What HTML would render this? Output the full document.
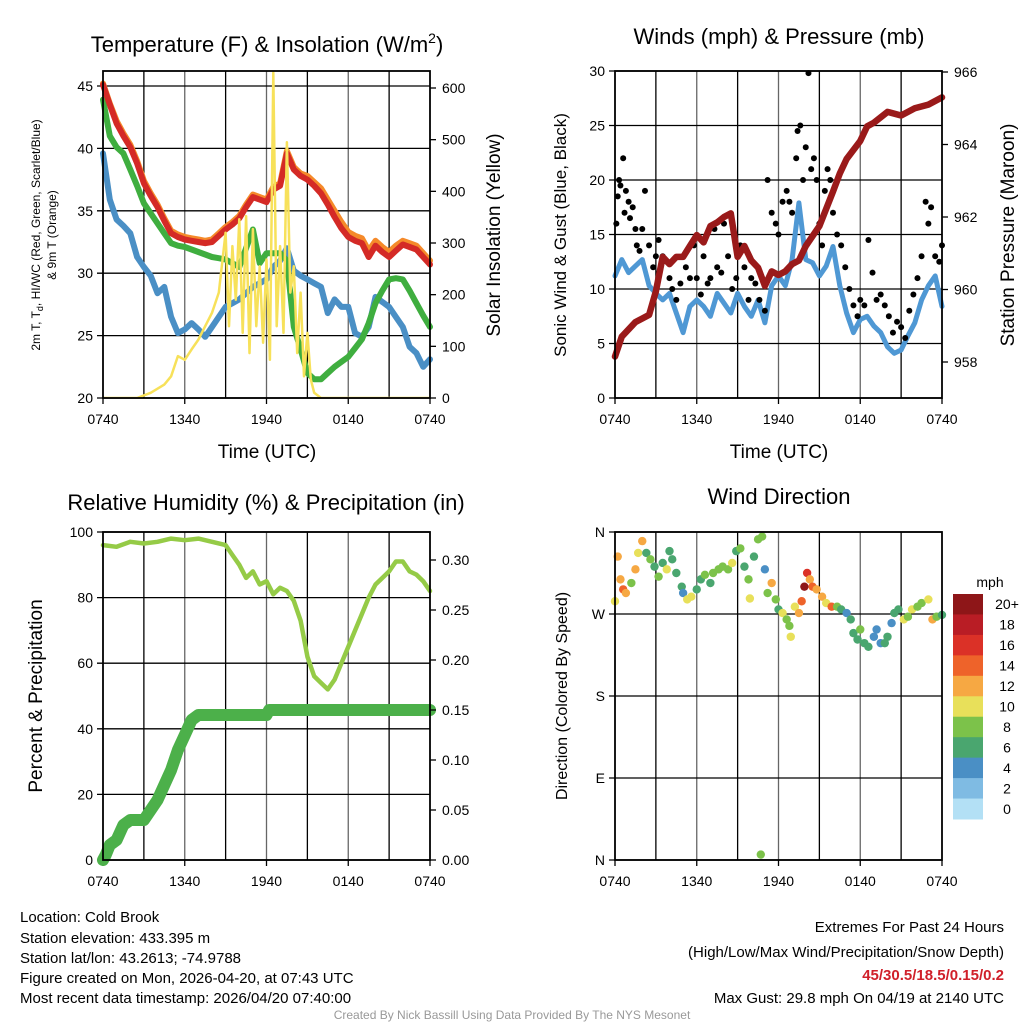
<!DOCTYPE html>
<html><head><meta charset="utf-8"><style>
body{margin:0;background:#fff}
svg{display:block;font-family:"Liberation Sans",sans-serif}
</style></head><body>
<svg id="c" width="1024" height="1024" viewBox="0 0 1024 1024">
<g id="L"></g>
<text x="267" y="52" font-size="22" text-anchor="middle">Temperature (F) &amp; Insolation (W/m<tspan dy="-9" font-size="14">2</tspan><tspan dy="9">)</tspan></text>
<text x="779" y="44" font-size="22" text-anchor="middle">Winds (mph) &amp; Pressure (mb)</text>
<text x="266" y="510" font-size="22" text-anchor="middle">Relative Humidity (%) &amp; Precipitation (in)</text>
<text x="779" y="504" font-size="22" text-anchor="middle">Wind Direction</text>
<text x="267" y="458" font-size="19" text-anchor="middle">Time (UTC)</text>
<text x="779" y="458" font-size="19" text-anchor="middle">Time (UTC)</text>
<text transform="translate(40,235) rotate(-90)" font-size="12" text-anchor="middle">2m T, T<tspan dy="3" font-size="9">d</tspan><tspan dy="-3">, HI/WC (Red, Green, Scarlet/Blue)</tspan></text>
<text transform="translate(56,235) rotate(-90)" font-size="12" text-anchor="middle">&amp; 9m T (Orange)</text>
<text transform="translate(500,235) rotate(-90)" font-size="19" text-anchor="middle">Solar Insolation (Yellow)</text>
<text transform="translate(566,235) rotate(-90)" font-size="17" text-anchor="middle">Sonic Wind &amp; Gust (Blue, Black)</text>
<text transform="translate(1014,235) rotate(-90)" font-size="19" text-anchor="middle">Station Pressure (Maroon)</text>
<text transform="translate(42,696) rotate(-90)" font-size="19" text-anchor="middle">Percent &amp; Precipitation</text>
<text transform="translate(567,696) rotate(-90)" font-size="16" text-anchor="middle">Direction (Colored By Speed)</text>
<text x="990" y="587" font-size="14" text-anchor="middle">mph</text>
<g font-size="15">
<text x="20" y="922">Location: Cold Brook</text>
<text x="20" y="943">Station elevation: 433.395 m</text>
<text x="20" y="963">Station lat/lon: 43.2613; -74.9788</text>
<text x="20" y="983">Figure created on Mon, 2026-04-20, at 07:43 UTC</text>
<text x="20" y="1003">Most recent data timestamp: 2026/04/20 07:40:00</text>
</g>
<g font-size="15" text-anchor="end">
<text x="1004" y="932">Extremes For Past 24 Hours</text>
<text x="1004" y="957">(High/Low/Max Wind/Precipitation/Snow Depth)</text>
<text x="1004" y="980" fill="#d0202a" font-weight="bold">45/30.5/18.5/0.15/0.2</text>
<text x="1004" y="1003">Max Gust: 29.8 mph On 04/19 at 2140 UTC</text>
</g>
<text x="512" y="1019" font-size="12" fill="#999" text-anchor="middle">Created By Nick Bassill Using Data Provided By The NYS Mesonet</text>
</svg>
<script>
// ---- data ----
const hrs49 = [0,0.5,1,1.5,2,2.5,3,3.5,4,4.5,5,5.5,6,6.5,7,7.5,8,8.5,9,9.5,10,10.5,11,11.5,12,12.5,13,13.5,14,14.5,15,15.5,16,16.5,17,17.5,18,18.5,19,19.5,20,20.5,21,21.5,22,22.5,23,23.5,24];
const tempRed = [45.1,43.5,42,41,40.1,38.8,37.2,36.2,35.3,34.2,33.2,32.9,32.7,32.6,32.5,32.4,32.5,33,33.5,33.9,34.4,35.3,36.1,35.9,35.7,36.7,37,39.6,38.3,37.8,37.5,37,36.4,35.5,34.5,33.6,32.9,32.6,32.4,31.3,32.2,31.7,31.3,31.8,32.3,32.1,31.9,31.3,30.7];
const temp9m = [45.2,43.6,42.2,41.2,40.3,39,37.4,36.4,35.5,34.4,33.4,33.1,32.9,32.8,32.7,32.6,32.7,33.2,33.7,34.1,34.6,35.5,36.3,36.1,35.9,36.9,37.2,39.8,38.5,38,37.8,37.3,36.8,35.9,35,34.1,33.3,33,32.8,31.8,32.6,32.1,31.7,32.2,32.6,32.4,32.2,31.6,31];
const tempDew = [43.9,41,40.1,39.6,38.3,37,35.6,34.8,34,33.2,32.4,32.2,32.1,31.9,31.7,31.5,31.3,31.2,31.1,30.8,30.5,32,33.5,30.8,31.6,31.6,31.6,31,25.7,23.9,22,21.5,21.5,22,22.5,22.9,23.3,24,24.7,26,27.6,28.6,29.5,29.6,29.5,28.6,27.6,26.6,25.7];
const tempWC = [39.6,35.9,34.3,33.8,33.2,31.3,30.5,29.8,28.4,28.9,26.5,25.2,25.5,26,25.5,24.9,25.7,26.5,27.3,27.6,27.9,28.4,28.9,29.2,29.5,30.5,31,32,30.2,29.8,29.5,29.2,28.9,26.8,27.9,27.3,27.3,25.2,24.9,25.7,28.1,27.7,27.3,26.5,25.7,24.1,23.6,22.5,23.1];
const solarHrs = [0,2.5,3.5,4.5,5,5.5,6,6.5,7,7.5,8,8.5,9,9.25,9.5,9.75,10,10.25,10.5,10.75,11,11.25,11.5,11.75,12,12.25,12.5,12.75,13,13.25,13.5,13.75,14,14.25,14.5,14.75,15,15.25,15.5,16,24];
const solarW = [0,0,10,26,42,81,74,94,113,139,165,204,320,139,294,190,346,126,352,87,327,139,255,107,268,74,630,139,294,126,495,204,255,87,204,42,126,36,10,0,0];
const pressHrs = [0,0.5,1,1.5,2,2.5,3,3.5,4,4.5,5,5.5,6,6.5,7,7.5,8,8.5,9,9.5,10,10.5,11,11.5,12,12.5,13,13.5,14,15,16,16.5,17,18,18.5,19,20,21,22,23,24];
const pressMb = [958.15,958.7,958.9,959.1,959.2,959.3,959.95,960.9,960.7,960.9,960.9,961.2,961.5,961.3,961.75,961.85,962,962.1,960.9,961.2,960.8,960.6,960.1,960.5,960.4,960.5,960.7,960.8,961.2,961.75,962.7,963.2,963.6,964.1,964.5,964.6,964.9,964.8,965,965.1,965.3];
const windMph = [11.2,12.7,11.5,12.1,12.7,10.3,9.6,9,9.6,7.8,6,8.4,9,8.4,7.5,9.6,8.7,7.8,9.6,8.4,7.5,9,6.9,10.3,11.2,10.3,12.7,17.9,12.7,12.4,11.2,12.1,13.9,10.3,7.8,6,7.2,7.5,6.6,6,4.7,4.1,4.4,5.7,6.9,9,10.3,11.2,8.4];
const gustHrs = [0.1,0.2,0.3,0.4,0.6,0.7,0.8,1.0,1.1,1.3,1.5,1.6,1.8,2.0,2.2,2.5,2.8,3.0,3.2,3.5,3.8,4.0,4.2,4.5,4.8,5.0,5.2,5.5,5.8,6.0,6.3,6.5,6.8,7.0,7.3,7.5,7.8,8.0,8.3,8.6,8.9,9.2,9.5,9.8,10.0,10.3,10.6,11.0,11.2,11.5,11.8,12.0,12.3,12.6,12.8,13.0,13.3,13.4,13.6,13.8,14.0,14.2,14.4,14.6,14.8,15.0,15.2,15.4,15.6,15.8,16.0,16.3,16.6,16.9,17.2,17.5,17.8,18.0,18.3,18.6,18.9,19.2,19.5,19.8,20.1,20.4,20.7,21.0,21.3,21.6,21.9,22.2,22.5,22.8,23.0,23.2,23.5,23.8,24.0];
const gustMph = [16,18.5,20,19.5,22,17,19,18,16.5,17.5,15.5,14,13.5,15.5,19,14,12,13,14.5,13,12.5,11,10,9,10.5,13,12,11,14,11,9.5,13,10.5,11,15.5,12,11.5,16,13,10,11,14,12,9,11,10.5,9,8,20,17,16,15,18,19,18,17,22,24.5,25,20,23,29.8,21,22,20,16,14,19,21,20,17,15,14,12,10,8.5,7.5,9,8.5,14.5,11.5,9,9.5,8.5,7.5,6,7,6.5,5.5,8,9.5,11,13,18,16,17.5,13,12.5,14];
const rhHrs = [0,1,2,3,4,5,6,7,8,9,9.5,10,10.5,11,11.5,12,12.5,13,13.5,14,14.5,15,15.5,16,16.5,17,17.5,18,18.5,19,19.5,20,21,21.5,22,22.5,23,23.5,24];
const rhPct = [96,95.5,97,96.5,97,98,97.5,98,97,96,93,90,86,88,84,85,81,83,82,79,73,62,56,54,52,55,60,65,70,75,80,84,88,91,91,88,87,85,82];
const precipHrs = [0,0.2,0.5,1,1.5,2,3,3.5,4,4.5,5,5.5,6,6.5,7,12,12.2,24];
const precipIn = [0,0.005,0.015,0.02,0.035,0.04,0.04,0.05,0.06,0.075,0.09,0.11,0.125,0.14,0.145,0.145,0.15,0.15];
const dirHrs = [0,0.2,0.4,0.6,0.8,1.2,1.5,1.7,2.0,2.3,2.6,2.9,3.2,3.5,3.8,4.0,4.2,4.5,4.9,5.0,5.3,5.6,6.0,6.3,6.6,7.0,7.2,7.6,7.9,8.3,8.6,8.9,9.2,9.5,9.8,9.9,10.2,10.5,10.8,11.0,11.2,11.5,11.8,12.0,12.3,12.6,12.8,12.9,13.2,13.5,13.7,13.9,14.1,14.3,14.5,14.8,15.2,15.5,15.9,16.3,16.6,17.0,17.3,17.5,17.8,18.0,18.3,18.6,19.0,19.2,19.5,19.8,20.0,20.3,20.5,20.8,21.2,21.5,21.8,22.2,22.5,23.0,23.3,23.6,24.0,10.7];
const dirDeg = [284,333,308,297,293,304,319,337,350,337,330,322,311,326,319,339,330,315,300,293,286,289,297,308,313,304,315,319,322,319,326,339,342,322,308,287,333,352,355,319,293,304,286,275,271,264,257,245,278,271,284,300,315,308,300,297,289,282,278,278,275,271,264,249,242,253,238,234,245,253,238,238,245,260,271,275,264,267,275,278,282,286,264,267,269,6];
const dirSpd = [10,12,12,14,12,9,12,10,12,6,8,6,8,7,10,6,6,6,6,4,10,10,6,7,8,7,8,9,8,8,10,6,8,7,8,10,6,8,8,4,8,12,9,7,10,8,8,10,10,12,14,20,16,12,14,12,12,10,15,8,6,4,6,6,6,8,6,6,4,4,4,6,6,4,6,6,10,8,10,8,8,10,12,8,6,8];
const cbLabels = ["20+","18","16","14","12","10","8","6","4","2","0"];
const cbColors = ["#8e1618","#b91d25","#db3127","#ee632a","#f6a843","#e8e05a","#7cc24a","#4aa66f","#4a8fc5","#7fbbe3","#b3e0f5"];
const xTickLabels = ["0740","1340","1940","0140","0740"];

const NS="http://www.w3.org/2000/svg";
const L=document.getElementById('L');
function mk(tag,attrs,parent){const e=document.createElementNS(NS,tag);for(const k in attrs)e.setAttribute(k,attrs[k]);(parent||L).appendChild(e);return e;}
function lin(d0,d1,r0,r1){return v=>r0+(v-d0)*(r1-r0)/(d1-d0);}

function frame(x0,x1,y0,y1,xs,ys,yTicks,yFmt,name){
  for(let h=3;h<24;h+=3){const g=mk('line',{x1:xs(h),x2:xs(h),y1:y0,y2:y1,stroke:h%6?'#000':'#666','stroke-width':1.3});
    
    }
  yTicks.forEach(v=>{const y=ys(v);
    const g=mk('line',{x1:x0-6,x2:x1,y1:y,y2:y,stroke:'#000','stroke-width':1.3});
    
    
    const t=mk('text',{x:x0-10,y:y+5,'font-size':14,'text-anchor':'end'});t.textContent=yFmt(v);
    
    });
  xTickLabels.forEach((s,i)=>{const x=xs(i*6);
    mk('line',{x1:x,x2:x,y1:y1,y2:y1+6,stroke:'#000','stroke-width':1.3});
    const t=mk('text',{x:x,y:y1+26,'font-size':14,'text-anchor':'middle'});t.textContent=s;
    
    });
}
function border(x0,x1,y0,y1,name){const r=mk('rect',{x:x0,y:y0,width:x1-x0,height:y1-y0,fill:'none',stroke:'#000','stroke-width':1.8});
  
  }
function rightAxis(x1,ys,ticks,fmt,name){ticks.forEach(v=>{const y=ys(v);
  mk('line',{x1:x1,x2:x1+6,y1:y,y2:y,stroke:'#000','stroke-width':1.3});
  const t=mk('text',{x:x1+12,y:y+5,'font-size':14});t.textContent=fmt(v);
  
  });}
function path(xsArr,ysArr,xs,ys,color,w,name){const d=xsArr.map((h,i)=>(i?'L':'M')+xs(h).toFixed(1)+','+ys(ysArr[i]).toFixed(1)).join('');
  const p=mk('path',{d:d,fill:'none',stroke:color,'stroke-width':w,'stroke-linejoin':'round','stroke-linecap':'round'});
  
  return p;}

// Panel 1
{const x0=103,x1=430,y0=71,y1=398;const xs=lin(0,24,x0,x1),ys=lin(20,45,398,86),ws=lin(0,600,398,88);
 frame(x0,x1,y0,y1,xs,ys,[20,25,30,35,40,45],v=>v,'temp');
 const cp=mk('clipPath',{id:'c1'});mk('rect',{x:x0,y:y0,width:x1-x0,height:y1-y0},cp);
 path(hrs49,tempWC,xs,ys,'#4a8fc5',6,'wind-chill-line');
 path(hrs49,tempDew,xs,ys,'#3fae3f',6,'dewpoint-line');
 path(hrs49,temp9m,xs,ys,'#f58a2a',6,'temp-9m-line');
 path(hrs49,tempRed,xs,ys,'#d42a26',6,'temp-2m-line');
 path(solarHrs,solarW,xs,ws,'#f7e15a',2.5,'solar-line').setAttribute('clip-path','url(#c1)');
 border(x0,x1,y0,y1,'temp');rightAxis(x1,ws,[0,100,200,300,400,500,600],v=>v,'solar');}
// Panel 2
{const x0=615,x1=942,y0=71,y1=398;const xs=lin(0,24,x0,x1),ys=lin(0,30,398,71),ps=lin(958,966,362,72);
 frame(x0,x1,y0,y1,xs,ys,[0,5,10,15,20,25,30],v=>v,'wind');
 path(hrs49,windMph,xs,ys,'#4f98d4',5,'sonic-wind-line');
 gustHrs.forEach((h,i)=>{const c=mk('circle',{cx:xs(h),cy:ys(gustMph[i]),r:3,fill:'#000'});
   
   });
 path(pressHrs,pressMb,xs,ps,'#9a1a1a',6.5,'pressure-line');
 border(x0,x1,y0,y1,'wind');rightAxis(x1,ps,[958,960,962,964,966],v=>v,'pressure');}
// Panel 3
{const x0=103,x1=430,y0=532,y1=860;const xs=lin(0,24,x0,x1),ys=lin(0,100,860,532),ps=lin(0,0.3,860,560);
 frame(x0,x1,y0,y1,xs,ys,[0,20,40,60,80,100],v=>v,'rh');
 path(precipHrs,precipIn,xs,ps,'#4cb04a',12,'precip-line');
 path(rhHrs,rhPct,xs,ys,'#95cb47',4.5,'rh-line');
 border(x0,x1,y0,y1,'rh');rightAxis(x1,ps,[0,0.05,0.1,0.15,0.2,0.25,0.3],v=>v.toFixed(2),'precip');}
// Panel 4
{const x0=615,x1=942,y0=532,y1=860;const xs=lin(0,24,x0,x1),ys=lin(0,360,860,532);
 frame(x0,x1,y0,y1,xs,ys,[0,90,180,270,360],v=>['N','E','S','W','N'][v/90],'wdir');
 dirHrs.forEach((h,i)=>{const b=Math.min(10,Math.floor(dirSpd[i]/2));const c=mk('circle',{cx:xs(h),cy:ys(dirDeg[i]),r:4.2,fill:cbColors[10-b]});
   
   });
 border(x0,x1,y0,y1,'wdir');
 cbLabels.forEach((s,i)=>{const h=225/11;const r=mk('rect',{x:953,y:594+i*h,width:30,height:h+0.5,fill:cbColors[i]});
   
   
   const t=mk('text',{x:1007,y:594+i*h+h/2+5,'font-size':14,'text-anchor':'middle'});t.textContent=s;
   
   });}
</script>
</body></html>
